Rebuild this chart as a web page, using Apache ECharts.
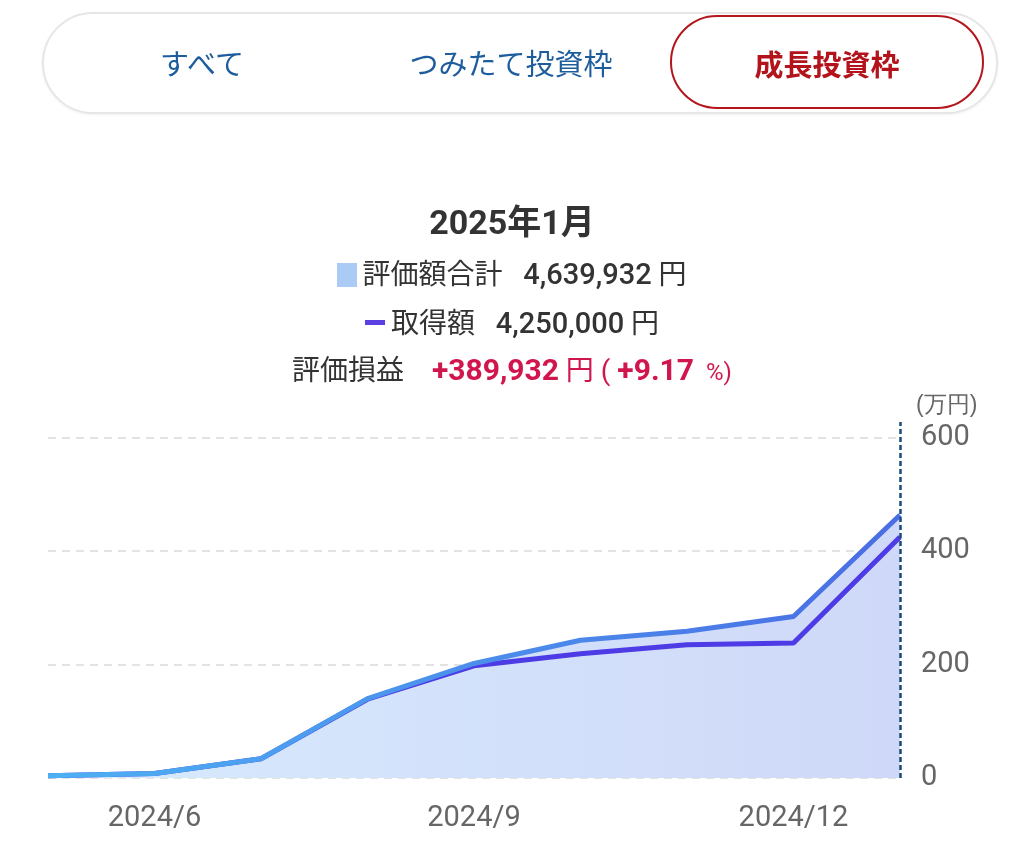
<!DOCTYPE html>
<html><head><meta charset="utf-8">
<script src="https://cdn.jsdelivr.net/npm/echarts@6/dist/echarts.min.js"></script>
<style>
html,body{margin:0;padding:0;background:#fff;width:1024px;height:854px;overflow:hidden;font-family:Roboto,"Noto Sans CJK JP",sans-serif;}
#chart{position:absolute;left:0;top:0;width:1024px;height:854px;}
.tabs{position:absolute;left:42px;top:12px;width:956px;height:102px;border:2px solid #e6e6e6;border-radius:52px;box-sizing:border-box;background:#fff;box-shadow:0 1px 3px rgba(0,0,0,0.06);}
.tab{position:absolute;top:0;height:98px;line-height:96px;text-align:center;font-size:29px;color:#1d5d9e;font-family:"Noto Sans CJK JP",sans-serif;}
.tab.active{border:2px solid #b3161c;border-radius:50px;color:#b3141c;font-weight:bold;top:1px;height:94px;line-height:92px;box-sizing:border-box;}
.sum{position:absolute;left:0;width:1024px;text-align:center;color:#333;font-family:Roboto,"Noto Sans CJK JP",sans-serif;}
.b{font-weight:bold;}
.red{color:#d0164d;}
</style></head><body>
<div id="chart"></div>
<div class="tabs">
  <div class="tab" style="left:58px;width:200px;">すべて</div>
  <div class="tab" style="left:352px;width:230px;">つみたて投資枠</div>
  <div class="tab active" style="left:626px;width:314px;">成長投資枠</div>
</div>
<div class="sum b" style="top:195px;font-size:34px;">2025年1月</div>
<div class="sum" style="top:252px;font-size:28px;"><span style="display:inline-block;width:20px;height:24px;background:#a9cbf5;vertical-align:-3px;margin-right:5px;"></span>評価額合計&nbsp;&nbsp;&nbsp;<span style="font-weight:500;font-size:29px;">4,639,932</span> 円</div>
<div class="sum" style="top:301px;font-size:28px;"><span style="display:inline-block;width:20px;height:5px;background:#5b3fe0;vertical-align:8px;margin-right:6px;"></span>取得額&nbsp;&nbsp;&nbsp;<span style="font-weight:500;font-size:29px;">4,250,000</span> 円</div>
<div class="sum" style="top:348px;font-size:28px;">評価損益&nbsp;&nbsp;&nbsp;&nbsp;<span class="red b" style="font-size:30px;">+389,932</span><span class="red"> 円 (&nbsp;</span><span class="red b" style="font-size:30px;">+9.17</span><span class="red" style="font-size:24px;">&nbsp; %)</span></div>
<script>
var categories = ['2024/5','2024/6','2024/7','2024/8','2024/9','2024/10','2024/11','2024/12','2025/1'];
var valuation = [4, 8, 34, 140, 202, 243, 259, 285, 464];
var acquisition = [4, 8, 34, 139, 198, 219, 235, 238, 425];
var yTicks = [0, 200, 400, 600];
var yTop = 628;

var chart = echarts.init(document.getElementById('chart'));
chart.setOption({
  animation: false,
  grid: {left: 48, right: 124, top: 422, bottom: 76},
  xAxis: {
    type: 'category', data: categories, boundaryGap: false,
    axisLine: {show: false}, axisTick: {show: false},
    axisLabel: {
      interval: function(i){ return i % 3 === 1; },
      color: '#666', fontSize: 29, fontFamily: 'Roboto', margin: 26
    }
  },
  yAxis: {
    type: 'value', position: 'right', min: yTicks[0], max: yTop, interval: 200,
    name: '(万円)', nameLocation: 'end', nameGap: 5,
    nameTextStyle: {color: '#666', fontSize: 23, align: 'left', padding: [0,0,0,16]},
    axisLine: {show: false}, axisTick: {show: false},
    axisLabel: {color: '#666', fontSize: 29, fontFamily: 'Roboto', margin: 21, showMaxLabel: false},
    splitLine: {showMaxLine: false, lineStyle: {color: '#e3e3e3', type: [8, 6], width: 2}}
  },
  series: [
    {
      name: '評価額合計-area', type: 'line', data: valuation, symbol: 'none', z: 1,
      lineStyle: {width: 0, opacity: 0},
      areaStyle: {opacity: 1, color: {type: 'linear', x: 0, y: 0, x2: 1, y2: 0, colorStops: [{offset: 0, color: '#d7ebfd'}, {offset: 1, color: '#cfd8f8'}]}},
      markLine: {
        silent: true, symbol: 'none', label: {show: false},
        lineStyle: {color: '#17497c', type: [5, 3], width: 2.5},
        data: [{xAxis: '2025/1'}]
      }
    },
    {
      name: '取得額', type: 'line', data: acquisition, symbol: 'none', z: 2,
      lineStyle: {width: 5, color: '#4d3be6'}
    },
    {
      name: '評価額合計', type: 'line', data: valuation, symbol: 'none', z: 3,
      lineStyle: {width: 5, color: {type: 'linear', x: 0, y: 0, x2: 1, y2: 0, colorStops: [{offset: 0, color: '#4db0f3'}, {offset: 1, color: '#4a6de4'}]}}
    }
  ]
});
</script>
</body></html>
